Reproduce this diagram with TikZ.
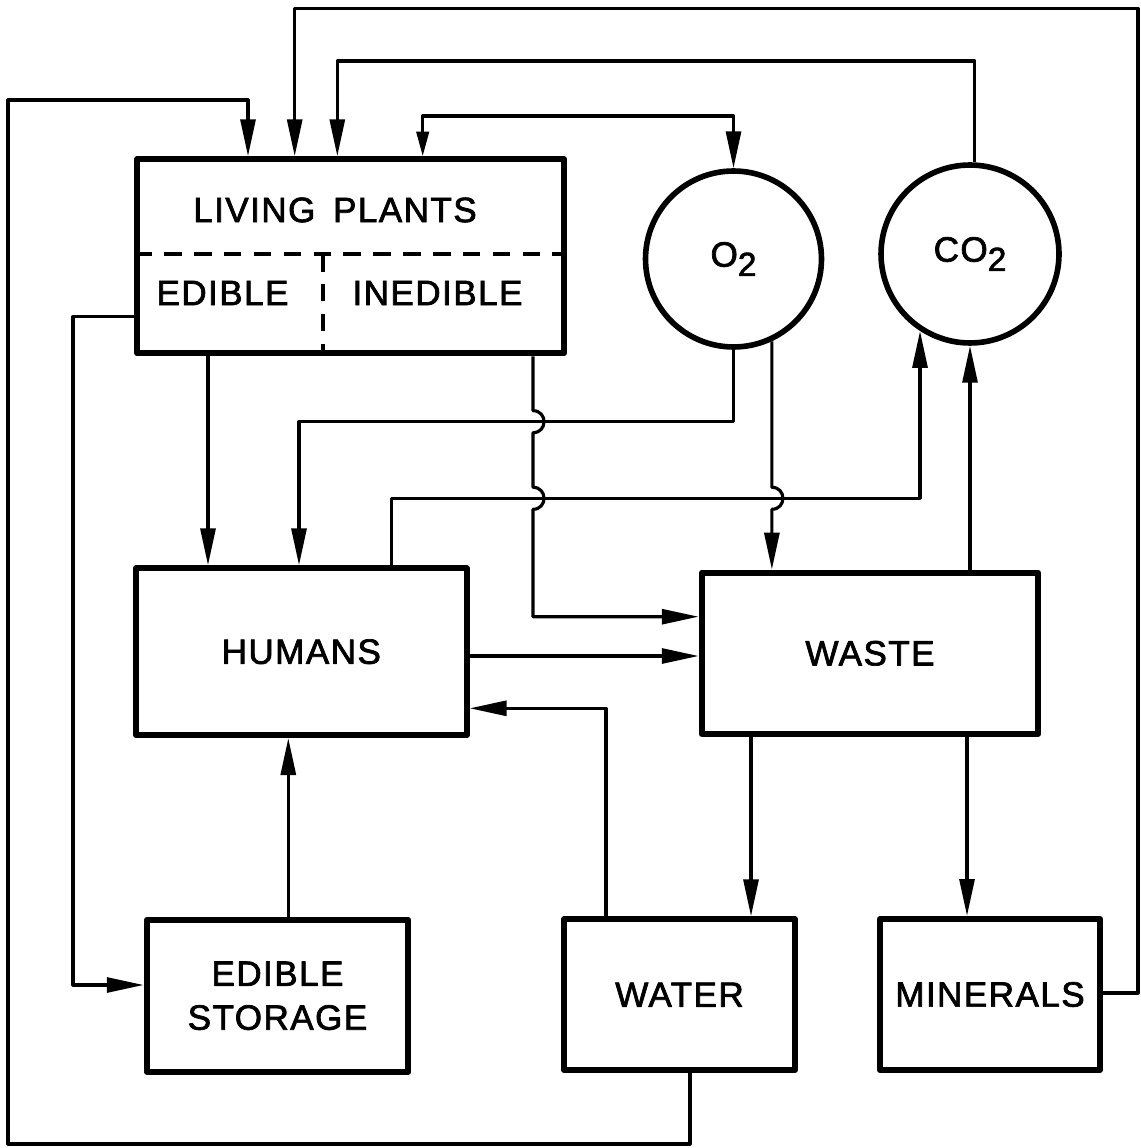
\documentclass[tikz,border=0pt]{standalone}
\usepackage{fontspec}
\setmainfont{Liberation Sans}[LetterSpace=4,FakeBold=2]
\usetikzlibrary{arrows.meta,calc}
\newcommand\diaglab{\fontsize{20}{25}\selectfont}
\newcommand\subtwo{\raisebox{-0.5ex}{\fontsize{19}{19}\selectfont 2}}
\begin{document}
\begin{tikzpicture}[x=0.02cm,y=-0.02cm,
  box/.style={draw, line width=3.5pt, inner sep=0pt, font=\diaglab, align=center, line join=round},
  gas/.style={draw, circle, line width=3.2pt, inner sep=0pt, font=\diaglab},
  conn/.style={line width=1.8pt, line join=round},
  flow/.style={conn, -{Triangle[length=21pt,width=8.5pt]}},
  flowtwo/.style={conn, {Triangle[length=14pt,width=7pt]}-{Triangle[length=21pt,width=8.5pt]}},
  divider/.style={line width=2.2pt, dash pattern=on 10pt off 7pt}]
\useasboundingbox (0,0) rectangle (1141,1148);

% nodes
\node[box, minimum width=8.534cm, minimum height=3.88cm] (lp) at (350.7,256.3) {};
\node[font=\diaglab] (lptext) at (335,210) {LIVING\hspace{0.5em}PLANTS};
\node[font=\diaglab] (edtext) at (222.5,293) {EDIBLE};
\node[font=\diaglab] (inedtext) at (437.5,293) {INEDIBLE};
\node[gas, minimum size=3.52cm] (o2) at (733.5,259) {O\subtwo};
\node[gas, minimum size=3.56cm] (co2) at (970,254) {CO\subtwo};
\node[box, minimum width=6.614cm, minimum height=3.334cm] (humans) at (301.3,651.7) {HUMANS};
\node[box, minimum width=6.732cm, minimum height=3.226cm] (waste) at (870,653.3) {WASTE};
\node[box, minimum width=5.232cm, minimum height=3.034cm] (storage) at (277.5,995.8) {EDIBLE\\STORAGE};
\node[box, minimum width=4.62cm, minimum height=3.014cm] (water) at (679.5,994.7) {WATER};
\node[box, minimum width=4.4cm, minimum height=3.02cm] (minerals) at (990,994.5) {MINERALS};

% dividers inside living plants
\draw[divider] (lp.west |- 0,254) -- (lp.east |- 0,254);
\draw[divider] (323.3,254) -- (323.3,0 |- lp.south);

% connectors
\draw[flow] (lp.west |- 0,316.7) -| (73,985) -- (storage.west |- 0,985);
\draw[flow] (208,0 |- lp.south) -- (208,0 |- humans.north);
\draw[flow] (533,0 |- lp.south) -- (533,410.7)
  .. controls +(14.7,0) and +(14.7,0) .. (533,432.7) -- (533,487.3)
  .. controls +(14.7,0) and +(14.7,0) .. (533,509.3) -- (533,616.7)
  -- (waste.west |- 0,616.7);
\draw[flow] (o2.south) -- (o2.south |- 0,421.7) -| (299,0 |- humans.north);
\path (o2.-65) coordinate (o2b);
\draw[flow] (o2b) -- (o2b |- 0,487.3)
  .. controls +(14.7,0) and +(14.7,0) .. ($(o2b |- 0,487.3)+(0,22)$)
  -- (o2b |- waste.north);
\draw[flow] (391.7,0 |- humans.north) -- (391.7,498.3) -| (co2.237);
\draw[flow] (co2.south |- waste.north) -- (co2.south);
\draw[flow] (humans.east |- 0,656) -- (waste.west |- 0,656);
\draw[flow] (606,0 |- water.north) -- (606,708.3) -- (humans.east |- 0,708.3);
\draw[flow] (288.3,0 |- storage.north) -- (288.3,0 |- humans.south);
\draw[flow] (751,0 |- waste.south) -- (751,0 |- water.north);
\draw[flow] (967,0 |- waste.south) -- (967,0 |- minerals.north);
\draw[flow] (minerals.east |- 0,993) -- (1138,993) -- (1138,8.3) -| (294.7,0 |- lp.north);
\draw[flow] (co2.87) |- (337.3,61) -- (337.3,0 |- lp.north);
\draw[flowtwo] (422.7,0 |- lp.north) -- (422.7,116) -| (o2.north);
\draw[flow] (690,0 |- water.south) -- (690,1144) -- (8,1144) -- (8,100) -| (248,0 |- lp.north);
\end{tikzpicture}
\end{document}
